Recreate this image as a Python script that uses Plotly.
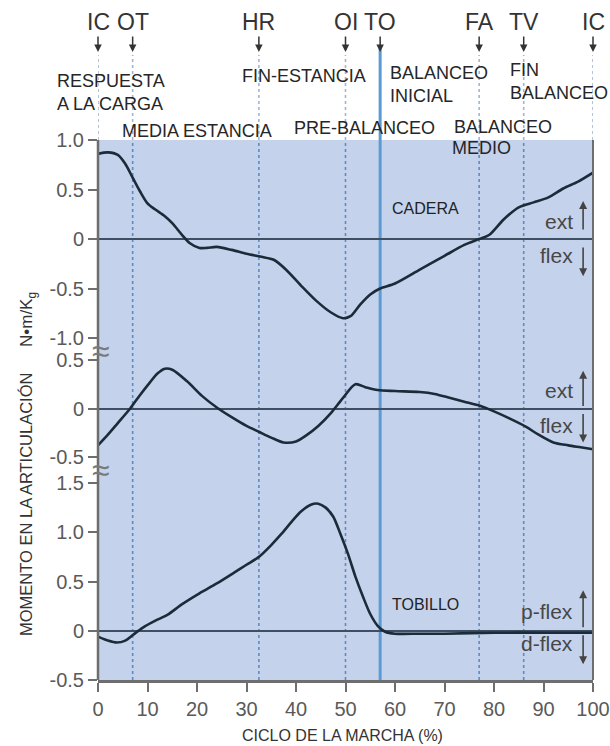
import plotly.graph_objects as go

# ---- gait-cycle joint moments (N·m/kg) vs % of gait cycle ----
hip_pct = [0, 2, 4, 5.5, 7, 8.5, 10, 11.5, 13.5, 15, 17, 18.5, 20.5, 22, 24, 27, 30,
           33, 35.5, 38, 41, 44, 47, 49.5, 51, 53, 55, 57, 60, 65, 70, 74, 77, 79,
           82, 85, 88, 91, 94, 97, 100]
hip_moment = [0.86, 0.875, 0.85, 0.76, 0.62, 0.48, 0.36, 0.30, 0.23, 0.16, 0.04, -0.04,
              -0.09, -0.09, -0.08, -0.11, -0.15, -0.18, -0.21, -0.31, -0.47, -0.62,
              -0.74, -0.80, -0.78, -0.66, -0.56, -0.50, -0.45, -0.31, -0.17, -0.06,
              0.0, 0.04, 0.20, 0.32, 0.37, 0.42, 0.51, 0.58, 0.67]

knee_pct = [0, 2, 4, 6.5, 8.5, 10.5, 12, 13.5, 15, 18, 21, 24, 27, 30, 32.5, 35, 37.5,
            40, 42, 44.5, 47, 49.5, 52, 54, 56.5, 60, 65, 68, 71, 74, 77, 80, 83,
            86.5, 89, 92, 95, 97.5, 100]
knee_moment = [-0.38, -0.27, -0.15, 0.0, 0.14, 0.27, 0.36, 0.41, 0.40, 0.28, 0.13, 0.01,
               -0.09, -0.18, -0.24, -0.30, -0.35, -0.34, -0.28, -0.18, -0.05, 0.11,
               0.25, 0.22, 0.19, 0.18, 0.17, 0.15, 0.11, 0.07, 0.03, -0.03, -0.10,
               -0.19, -0.27, -0.35, -0.38, -0.40, -0.42]

ankle_pct = [0, 2, 3.8, 5.5, 7.1, 9, 11.5, 14, 17, 20.5, 24, 27.5, 30, 32.5, 35, 37,
             39, 41, 43, 44.5, 46, 47.5, 49, 50.5, 52, 53.5, 55, 56.5, 58, 60, 65,
             70, 80, 90, 100]
ankle_moment = [-0.06, -0.10, -0.12, -0.10, -0.04, 0.03, 0.10, 0.16, 0.27, 0.38, 0.48,
                0.59, 0.67, 0.75, 0.87, 0.98, 1.10, 1.21, 1.28, 1.29, 1.25, 1.16,
                0.98, 0.78, 0.55, 0.35, 0.17, 0.05, -0.01, -0.03, -0.03, -0.03,
                -0.02, -0.02, -0.02]

# gait events
event_labels = ["IC", "OT", "HR", "OI", "TO", "FA", "TV", "IC"]
event_pct = [0, 7, 32.5, 50, 57, 77, 86, 100]

x_ticks = [0, 10, 20, 30, 40, 50, 60, 70, 80, 90, 100]
hip_ticks = [1.0, 0.5, 0, -0.5, -1.0]
hip_ticktext = ["1.0", "0.5", "0", "-0.5", "-1.0"]
knee_ticks = [0.5, 0, -0.5]
knee_ticktext = ["0.5", "0", "-0.5"]
ankle_ticks = [1.5, 1.0, 0.5, 0, -0.5]
ankle_ticktext = ["1.5", "1.0", "0.5", "0", "-0.5"]

# ---- page geometry (pixels) ----
W, H = 610, 746
PL, PR, PT, PB = 98, 593, 140, 680


def px(xp):
    return (xp - PL) / (PR - PL)


def py(yp):
    return (PB - yp) / (PB - PT)


FONT = "Liberation Sans, Arial, sans-serif"
NARROW = "Liberation Sans Narrow, Arial Narrow, Liberation Sans, Arial, sans-serif"
CURVE = "#1c2b3a"
BG = "#c4d2eb"
AXIS = "#6e6e6e"
TICKFONT = dict(family=FONT, size=20, color="#5a5a5a")

fig = go.Figure()
line_style = dict(color=CURVE, width=2.6, shape="spline", smoothing=0.8)
fig.add_trace(go.Scatter(x=hip_pct, y=hip_moment, mode="lines", line=line_style,
                         xaxis="x", yaxis="y", hoverinfo="skip"))
fig.add_trace(go.Scatter(x=knee_pct, y=knee_moment, mode="lines", line=line_style,
                         xaxis="x", yaxis="y2", hoverinfo="skip"))
fig.add_trace(go.Scatter(x=ankle_pct, y=ankle_moment, mode="lines", line=line_style,
                         xaxis="x", yaxis="y3", hoverinfo="skip"))

yax_common = dict(anchor="x", showgrid=False, showline=False, ticks="outside",
                  ticklen=9, tickwidth=2, tickcolor=AXIS, tickfont=TICKFONT,
                  zeroline=True, zerolinecolor="#3f4f63", zerolinewidth=1.8,
                  automargin=False, fixedrange=True)

shapes = [
    # continuous blue background behind all three panels
    dict(type="rect", xref="paper", yref="paper", x0=0, x1=1, y0=0, y1=1,
         fillcolor=BG, line=dict(width=0), layer="below"),
]

# event markers: dotted lines above the panels, and through the panels
for lab, pct in zip(event_labels, event_pct):
    if lab == "TO":
        shapes.append(dict(type="line", xref="x", yref="paper", x0=pct, x1=pct,
                           y0=0, y1=py(45), line=dict(color="#5b9bd5", width=3),
                           layer="below"))
        continue
    shapes.append(dict(type="line", xref="x", yref="paper", x0=pct, x1=pct,
                       y0=1, y1=py(55), line=dict(color="#9fb6d6", width=1.6, dash="dot"),
                       layer="below"))
    if 0 < pct < 100:
        shapes.append(dict(type="line", xref="x", yref="paper", x0=pct, x1=pct,
                           y0=0, y1=1, line=dict(color="#5a8cc8", width=1.6, dash="dot"),
                           layer="below"))

# frame: left axis line and right border
shapes.append(dict(type="line", xref="paper", yref="paper", x0=0, x1=0, y0=0, y1=1,
                   line=dict(color=AXIS, width=2.5)))
shapes.append(dict(type="line", xref="paper", yref="paper", x0=1, x1=1, y0=0, y1=1,
                   line=dict(color=AXIS, width=2)))

ann = []

# event labels with down arrows
for lab, pct in zip(event_labels, event_pct):
    ann.append(dict(x=pct, y=py(52), xref="x", yref="paper", text=lab,
                    showarrow=True, ax=0, ay=-30, arrowhead=2, arrowsize=1,
                    arrowwidth=1.5, arrowcolor="#333333", standoff=0,
                    font=dict(family=FONT, size=23, color="#333333")))

# phase names
PHASE_FONT = dict(family=FONT, size=18, color="#262626")
phases = [
    ("RESPUESTA<br>A LA CARGA", 55, 92),
    ("MEDIA ESTANCIA", 120, 131),
    ("FIN-ESTANCIA", 240, 76),
    ("PRE-BALANCEO", 292, 128),
    ("BALANCEO<br>INICIAL", 388, 84),
    ("BALANCEO", 452, 127),
    ("MEDIO", 450, 148),
    ("FIN<br>BALANCEO", 508, 81),
]
for text, xp, yp in phases:
    ann.append(dict(x=px(xp), y=py(yp), xref="paper", yref="paper", text=text,
                    showarrow=False, xanchor="left", yanchor="middle", align="left",
                    font=PHASE_FONT))

# joint names
JOINT_FONT = dict(family=FONT, size=16, color="#222222")
for text, yref, yv in [("CADERA", "y", 0.31), ("RODILLA", "y2", -0.52),
                       ("TOBILLO", "y3", 0.27)]:
    ann.append(dict(x=59, y=yv, xref="x", yref=yref, text=text, showarrow=False,
                    xanchor="left", yanchor="middle", font=JOINT_FONT))

# direction labels and arrows on the right side
SIDE_FONT = dict(family=FONT, size=21, color="#474747")
side = [
    ("ext", "y", 0.18, 0.08, 0.385),
    ("flex", "y", -0.17, -0.07, -0.375),
    ("ext", "y2", 0.19, 0.01, 0.39),
    ("flex", "y2", -0.175, -0.04, -0.35),
    ("p-flex", "y3", 0.20, 0.02, 0.41),
    ("d-flex", "y3", -0.13, -0.03, -0.34),
]
for text, yref, ylab, y_tail, y_tip in side:
    ann.append(dict(x=96.4, y=ylab, xref="x", yref=yref, text=text, showarrow=False,
                    xanchor="right", yanchor="middle", font=SIDE_FONT))
    ann.append(dict(x=98, y=y_tip, xref="x", yref=yref, ax=98, ay=y_tail,
                    axref="x", ayref=yref, text="", showarrow=True, arrowhead=2,
                    arrowsize=1, arrowwidth=1.6, arrowcolor="#444444", standoff=0))

# axis-break marks on the left axis
for yp in (351, 470):
    ann.append(dict(x=px(101), y=py(yp), xref="paper", yref="paper", text="≈",
                    showarrow=False, xanchor="center", yanchor="middle",
                    font=dict(family=FONT, size=32, color="#7a7a7a")))

# y-axis titles
ann.append(dict(x=px(26), y=py(505), xref="paper", yref="paper",
                text="MOMENTO EN LA ARTICULACIÓN", textangle=-90, showarrow=False,
                xanchor="center", yanchor="middle",
                font=dict(family=NARROW, size=16.5, color="#333333")))
ann.append(dict(x=px(28), y=py(320), xref="paper", yref="paper",
                text="N•m/K<sub>g</sub>", textangle=-90, showarrow=False,
                xanchor="center", yanchor="middle",
                font=dict(family=FONT, size=17, color="#333333")))

# x-axis title
ann.append(dict(x=px(342), y=py(735), xref="paper", yref="paper",
                text="CICLO DE LA MARCHA (%)", showarrow=False,
                xanchor="center", yanchor="middle",
                font=dict(family=FONT, size=16, color="#333333")))

fig.update_layout(
    width=W, height=H,
    margin=dict(l=PL, r=W - PR, t=PT, b=H - PB, pad=0, autoexpand=False),
    paper_bgcolor="white",
    plot_bgcolor="rgba(0,0,0,0)",
    showlegend=False,
    xaxis=dict(domain=[0, 1], range=[0, 100], anchor="y3", showgrid=False,
               zeroline=False, showline=True, linecolor=AXIS, linewidth=2.5,
               ticks="outside", ticklen=9, tickwidth=2, tickcolor=AXIS,
               tickvals=x_ticks, tickfont=TICKFONT, ticklabeloverflow="allow",
               automargin=False, fixedrange=True),
    yaxis=dict(domain=[py(338), 1.0], range=[-1, 1], tickvals=hip_ticks,
               ticktext=hip_ticktext, **yax_common),
    yaxis2=dict(domain=[py(457), py(360)], range=[-0.5, 0.5], tickvals=knee_ticks,
                ticktext=knee_ticktext, **yax_common),
    yaxis3=dict(domain=[0, py(483)], range=[-0.5, 1.5], tickvals=ankle_ticks,
                ticktext=ankle_ticktext, **yax_common),
    shapes=shapes,
    annotations=ann,
)

fig.write_html("out.html", config={"displayModeBar": False})
